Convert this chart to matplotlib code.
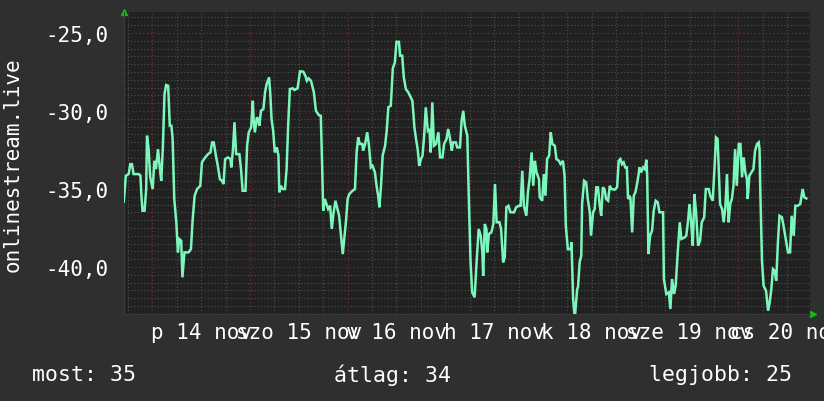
import matplotlib
matplotlib.use("Agg")
import matplotlib.pyplot as plt

# hours since 13 Nov 00:00, and the measured value
HOURS = [
    17.0, 17.5, 18.2, 18.6, 19.0, 19.4, 20.7, 21.1, 21.3, 21.6, 22.1, 22.5, 22.7, 23.1,
    23.5, 24.1, 24.5, 24.9, 25.4, 25.8, 26.2, 26.6, 27.0, 27.4, 27.9, 28.3, 28.7, 29.0,
    29.4, 29.9, 30.3, 30.6, 31.1, 31.4, 31.9, 32.9, 33.5, 33.9, 34.4, 35.0, 35.8, 36.2,
    37.0, 37.7, 38.3, 38.7, 39.1, 39.7, 40.1, 40.6, 41.1, 41.5, 41.9, 42.6, 43.2, 43.4,
    43.8, 44.2, 44.6, 45.4, 45.8, 46.2, 46.9, 47.3, 47.7, 48.3, 48.7, 48.9, 49.2, 49.7,
    50.0, 50.3, 50.7, 51.3, 51.7, 52.1, 52.7, 53.0, 53.3, 53.7, 54.1, 54.6, 55.0, 55.2,
    55.6, 56.0, 56.6, 57.0, 57.4, 57.8, 58.5, 58.9, 59.7, 60.3, 61.1, 61.6, 62.0, 62.4,
    63.0, 63.7, 64.2, 64.9, 65.4, 65.7, 66.0, 66.4, 66.8, 67.2, 67.7, 68.1, 68.5, 69.0,
    69.6, 69.9, 70.4, 70.8, 71.2, 71.6, 72.0, 72.4, 72.8, 73.2, 73.8, 74.2, 74.6, 75.0,
    75.6, 75.8, 76.3, 76.8, 77.2, 77.7, 78.1, 78.7, 79.1, 79.5, 79.8, 80.2, 80.6, 81.2,
    81.6, 82.0, 82.6, 83.1, 83.6, 84.0, 84.6, 84.9, 85.4, 85.8, 86.3, 86.9, 87.5, 87.9,
    88.1, 88.4, 88.8, 89.2, 89.6, 90.0, 90.4, 90.8, 91.2, 91.7, 92.1, 92.4, 92.8, 93.2,
    93.7, 94.3, 94.7, 95.3, 95.7, 96.3, 96.7, 97.1, 97.6, 97.9, 98.6, 98.9, 99.6, 100.0,
    100.4, 100.8, 101.4, 101.8, 102.2, 102.6, 103.2, 103.7, 104.2, 104.7, 105.1, 105.3,
    105.7, 106.1, 106.3, 106.7, 107.3, 107.8, 108.2, 108.6, 109.3, 109.7, 110.2, 110.6,
    111.0, 111.5, 112.0, 112.9, 113.4, 114.1, 114.5, 114.9, 115.3, 115.9, 116.3, 116.7,
    117.2, 117.6, 118.0, 118.4, 119.0, 119.2, 119.8, 120.2, 120.6, 121.0, 121.5, 121.9,
    122.3, 122.9, 123.3, 123.9, 124.3, 124.9, 125.3, 125.6, 126.1, 126.8, 127.0, 127.4,
    127.8, 128.4, 128.6, 129.0, 129.4, 129.6, 130.1, 130.6, 131.0, 131.5, 131.8, 132.3,
    132.7, 133.1, 133.5, 133.9, 134.3, 134.7, 135.1, 135.5, 136.0, 136.4, 136.8, 137.6,
    138.2, 138.6, 139.0, 139.4, 139.8, 140.2, 140.6, 140.9, 141.3, 141.5, 141.9, 142.3,
    142.7, 143.1, 143.5, 143.7, 144.1, 144.6, 145.0, 145.4, 145.6, 145.9, 146.3, 146.8,
    147.2, 147.7, 148.2, 148.6, 149.5, 149.7, 150.3, 150.9, 151.3, 151.7, 152.2, 152.6,
    153.1, 153.6, 154.0, 154.8, 155.2, 155.6, 156.0, 156.4, 156.8, 157.2, 157.6, 158.1,
    158.6, 159.0, 159.6, 160.0, 160.7, 161.1, 161.7, 162.1, 162.5, 162.9, 163.1, 163.5,
    164.0, 164.4, 164.8, 165.2, 165.6, 166.0, 166.4, 166.8, 167.2, 167.6, 168.1, 168.5,
    168.9, 169.3, 169.7, 170.1, 170.3, 170.7, 171.2, 171.7, 172.1, 172.6, 173.0, 173.2,
    173.4, 173.8, 174.2, 174.8, 175.3, 175.7, 176.1, 176.5, 176.9, 177.3, 177.7, 178.1,
    178.7, 179.1, 179.7, 180.2, 180.7, 181.1, 181.6, 182.0, 182.6, 183.2, 183.8, 184.2,
    184.7,
]
VALUES = [
    -35.8, -34.15, -34.04, -33.40, -33.40, -34.04, -34.04, -34.15, -35.32, -36.39, -36.39,
    -35.00, -31.58, -32.44, -34.25, -35.00, -33.19, -33.72, -32.44, -33.51, -34.47, -32.33,
    -28.91, -28.33, -28.38, -30.94, -30.94, -31.79, -35.64, -37.13, -39.06, -38.20, -38.31,
    -40.66, -39.06, -39.06, -38.85, -37.03, -35.43, -35.00, -34.79, -33.29, -32.97, -32.76,
    -32.65, -32.01, -32.01, -32.97, -33.51, -34.36, -34.47, -34.68, -33.08, -32.97, -33.08,
    -33.61, -32.54, -30.72, -32.76, -32.76, -33.72, -35.11, -35.11, -32.22, -31.37, -31.04,
    -29.34, -30.51, -31.37, -30.40, -30.51, -30.94, -29.98, -29.87, -28.80, -28.27, -27.84,
    -28.91, -30.51, -31.26, -32.65, -32.33, -32.86, -35.21, -34.79, -35.00, -35.00, -33.72,
    -30.83, -28.59, -28.54, -28.65, -28.54, -27.45, -27.48, -27.74, -28.06, -27.90, -28.06,
    -28.80, -29.98, -30.26, -30.30, -33.19, -36.39, -35.64, -35.96, -36.28, -36.07, -37.56,
    -36.60, -35.75, -36.39, -36.71, -38.10, -39.17, -38.10, -37.03, -35.64, -35.32, -35.21,
    -35.11, -35.00, -32.65, -31.69, -32.11, -32.11, -32.54, -32.11, -31.36, -32.11, -33.61,
    -33.51, -33.93, -34.79, -35.43, -36.17, -34.79, -32.86, -32.22, -31.26, -29.76, -29.66,
    -27.26, -26.88, -25.56, -25.56, -26.45, -26.45, -27.84, -28.59, -28.80, -29.12, -29.34,
    -29.98, -31.04, -31.79, -32.44, -33.51, -33.08, -32.86, -31.58, -29.76, -31.26, -31.15,
    -32.65, -29.44, -32.22, -32.11, -31.36, -32.97, -32.97, -32.11, -31.79, -31.15, -31.69,
    -32.54, -32.01, -32.01, -32.33, -32.33, -30.62, -29.98, -30.94, -31.58, -35.85, -39.70,
    -41.62, -41.94, -39.59, -37.56, -37.99, -39.06, -40.56, -37.24, -37.56, -39.06, -37.88,
    -37.78, -37.24, -34.68, -37.13, -37.13, -37.56, -39.70, -39.38, -36.17, -36.07, -36.49,
    -36.49, -36.17, -36.07, -36.07, -33.83, -36.07, -36.71, -35.21, -34.36, -32.65, -34.79,
    -33.19, -33.93, -34.36, -35.53, -35.75, -34.04, -35.43, -33.08, -32.86, -31.36, -32.11,
    -32.22, -33.08, -33.19, -33.40, -33.19, -34.15, -37.35, -38.85, -38.85, -38.42, -42.05,
    -43.30, -41.41, -41.28, -39.70, -39.27, -35.96, -34.47, -34.57, -35.64, -36.49, -37.99,
    -36.49, -36.28, -34.89, -34.89, -35.96, -36.71, -34.89, -35.00, -35.64, -35.75, -34.79,
    -35.00, -35.04, -34.89, -33.19, -33.08, -33.40, -33.29, -33.61, -33.61, -35.64, -35.43,
    -35.64, -37.78, -35.43, -35.21, -34.68, -34.04, -33.61, -33.93, -33.61, -33.72, -33.12,
    -34.15, -39.17, -37.99, -37.67, -36.39, -35.75, -35.85, -36.49, -36.49, -40.77, -41.73,
    -41.62, -42.69, -40.77, -41.73, -41.20, -39.06, -37.13, -38.20, -38.10, -37.99, -37.13,
    -35.96, -37.13, -38.63, -35.32, -36.49, -38.63, -38.31, -37.13, -36.81, -35.00, -35.00,
    -35.43, -35.75, -33.83, -31.69, -31.79, -33.19, -35.96, -36.28, -37.13, -36.17, -34.04,
    -37.13, -35.96, -35.64, -34.79, -32.44, -34.79, -32.11, -32.11, -34.25, -32.97, -33.93,
    -34.36, -35.64, -34.15, -33.93, -33.72, -32.54, -32.11, -32.01, -32.44, -35.21, -39.60,
    -41.20, -41.52, -42.80, -42.26, -41.41, -40.13, -40.24, -40.88, -38.52, -36.71, -36.81,
    -37.35, -38.31, -39.06, -39.06, -36.71, -38.00, -36.07, -36.07, -35.96, -35.00, -35.53,
    -35.60,
]

DAY_LABELS = ["p 14 nov", "szo 15 nov", "v 16 nov", "h 17 nov", "k 18 nov",
              "sze 19 nov", "cs 20 nov"]
DAY_NOON = [36, 60, 84, 108, 132, 156, 180]
Y_TICKS = [-25, -30, -35, -40]
YLABEL = "onlinestream.live"
STATS = ["most: 35", "átlag: 34", "legjobb: 25"]

BG, PLOT_BG = "#2f2f2f", "#212121"
LINE = "#7cf7bb"
MINOR, MAJOR = "#505050", "#742e2e"
ARROW = "#00c800"
MONO = ["DejaVu Sans Mono"]

fig = plt.figure(figsize=(8.24, 4.02), dpi=100, facecolor=BG)
ax = fig.add_axes([124 / 824, 1 - 315 / 402, (810 - 124) / 824, (315 - 13) / 402])
ax.set_facecolor(PLOT_BG)
ax.set_xlim(17.05, 185.6)
ax.set_ylim(-43.01, -23.65)

# grid: 6 h / 0.5 unit minor, 1 day / 5 units major (red)
dots = (0, (1, 2))
for h in range(18, 186, 6):
    if h % 24:
        ax.axvline(h, color=MINOR, lw=0.8, ls=dots, zorder=1)
for i in range(-86, -46):
    v = i / 2
    if v % 5:
        ax.axhline(v, color=MINOR, lw=0.8, ls=dots, zorder=1)
for h in range(24, 186, 24):
    ax.axvline(h, color=MAJOR, lw=0.9, ls=dots, zorder=1.5)
for v in Y_TICKS:
    ax.axhline(v, color=MAJOR, lw=0.9, ls=dots, zorder=1.5)

ax.plot(HOURS, VALUES, color=LINE, lw=1.8, zorder=3, solid_joinstyle="miter")

ax.set_yticks(Y_TICKS, [("%.1f" % v).replace(".", ",") for v in Y_TICKS])
ax.set_xticks(DAY_NOON, DAY_LABELS)
ax.tick_params(axis="y", length=0, pad=11, labelsize=15, labelcolor="white")
ax.tick_params(axis="x", length=0, pad=6, labelsize=15, labelcolor="white")
for lbl in ax.get_xticklabels() + ax.get_yticklabels():
    lbl.set_family(MONO)
for s in ["top", "right"]:
    ax.spines[s].set_visible(False)
for s in ["left", "bottom"]:
    ax.spines[s].set_color("#3a3a3a")

# little green arrows at the axis ends
ax.plot([0], [1.0], marker="^", ms=5, color=ARROW, transform=ax.transAxes, clip_on=False)
ax.plot([1.004], [0], marker=">", ms=5, color=ARROW, transform=ax.transAxes, clip_on=False)

fig.text(13 / 824, 1 - 165 / 402, YLABEL, rotation=90, ha="center", va="center",
         color="white", fontsize=15, family=MONO)
fig.text(32 / 824, 1 - 375 / 402, STATS[0], ha="left", va="center", color="white",
         fontsize=15.5, family=MONO)
fig.text(334 / 824, 1 - 375 / 402, STATS[1], ha="left", va="center", color="white",
         fontsize=15.5, family=MONO)
fig.text(792 / 824, 1 - 375 / 402, STATS[2], ha="right", va="center", color="white",
         fontsize=15.5, family=MONO)

fig.savefig("out.png", dpi=100, facecolor=BG)
